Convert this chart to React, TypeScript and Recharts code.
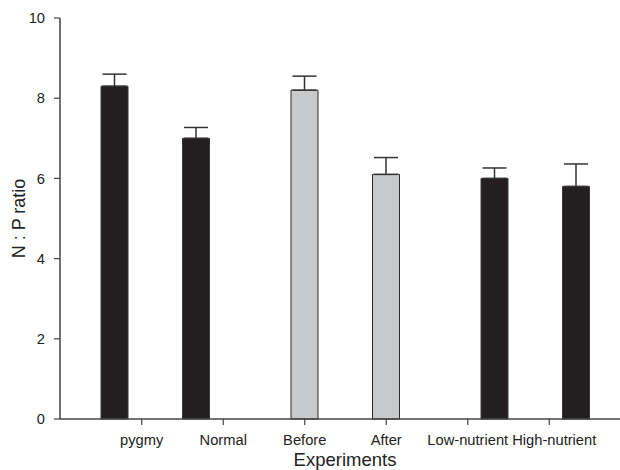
import React from 'react';
import { BarChart, Bar, XAxis, YAxis, ErrorBar, Label } from 'recharts';

const categories = ['pygmy', 'Normal', 'Before', 'After', 'Low-nutrient', 'High-nutrient'];
const npRatio = [8.3, 7.0, 8.2, 6.1, 6.0, 5.8];
const npError = [0.3, 0.27, 0.35, 0.42, 0.26, 0.56];
// which experiment set each category belongs to (series index)
const experimentSet = [0, 0, 1, 1, 2, 2];
const seriesKeys = ['s0', 's1', 's2'];
const yTicks = [0, 2, 4, 6, 8, 10];

const data = categories.map((name, i) => {
  const row: any = { name };
  seriesKeys.forEach((k, s) => {
    const on = experimentSet[i] === s;
    row[k] = on ? npRatio[i] : null;
    row[k + 'err'] = on ? [0, npError[i]] : null;
  });
  return row;
});

const seriesFill = ['#231f20', '#c8c9cb', '#231f20'];
const seriesStroke = ['#3c3a3a', '#2b2b2b', '#3c3a3a'];
const FONT = '"Liberation Sans", Arial, sans-serif';
const textColor = '#222';
const axisColor = '#444';

const XTick = (props: any) => {
  const { x, y, payload, index } = props;
  // the last label is nudged right so it doesn't touch its neighbour
  const nudge = index === categories.length - 1 ? 5 : 0;
  return (
    <text
      x={x + nudge}
      y={y}
      dy="0.71em"
      textAnchor="middle"
      fill={textColor}
      fontSize={14.7}
      fontFamily={FONT}
    >
      {payload.value}
    </text>
  );
};

export default function App() {
  return (
    <div style={{ position: 'absolute', left: 0, top: 0 }}>
      <BarChart
        width={620}
        height={470}
        data={data}
        margin={{ top: 18, right: 0, bottom: 0, left: 0 }}
        barSize={27}
        barGap={0}
      >
        <XAxis
          dataKey="name"
          height={51}
          padding={{ left: 41, right: 30 }}
          interval={0}
          tickSize={6}
          tickMargin={10}
          axisLine={{ stroke: axisColor, strokeWidth: 1.5 }}
          tickLine={{ stroke: axisColor, strokeWidth: 1.2 }}
          tick={<XTick />}
        >
          <Label
            content={() => (
              <text x={345} y={466} textAnchor="middle" fill={textColor} fontSize={18.5} fontFamily={FONT}>
                Experiments
              </text>
            )}
          />
        </XAxis>
        <YAxis
          width={60}
          domain={[0, 10]}
          ticks={yTicks}
          tickSize={6}
          tickMargin={9}
          axisLine={{ stroke: axisColor, strokeWidth: 1.5 }}
          tickLine={{ stroke: axisColor, strokeWidth: 1.2 }}
          tick={{ fill: textColor, fontSize: 14.7, fontFamily: FONT }}
        >
          <Label
            content={() => (
              <text
                x={25}
                y={218.5}
                transform="rotate(-90, 25, 218.5)"
                textAnchor="middle"
                fill={textColor}
                fontSize={18}
                fontFamily={FONT}
              >
                N : P ratio
              </text>
            )}
          />
        </YAxis>
        {seriesKeys.map((k, s) => (
          <Bar
            key={k}
            dataKey={k}
            fill={seriesFill[s]}
            stroke={seriesStroke[s]}
            strokeWidth={1}
            isAnimationActive={false}
          >
            <ErrorBar dataKey={k + 'err'} width={12} stroke="#333" strokeWidth={1.5} direction="y" />
          </Bar>
        ))}
      </BarChart>
    </div>
  );
}
